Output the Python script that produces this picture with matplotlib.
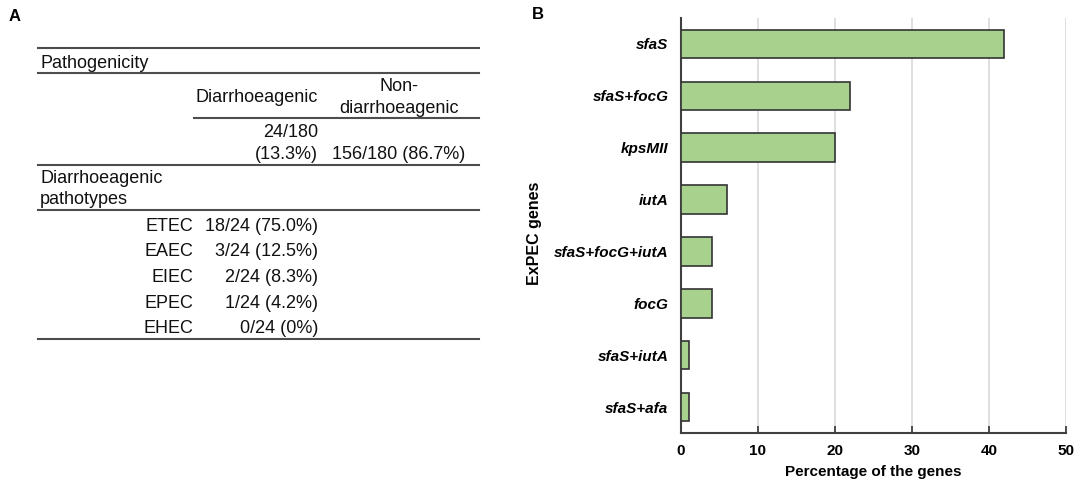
import matplotlib
matplotlib.use("Agg")
from matplotlib import pyplot as plt
from matplotlib.lines import Line2D
import numpy as np

plt.rcParams['font.family'] = ['Liberation Sans', 'DejaVu Sans']

# panel B data
genes = ["sfaS", "sfaS+focG", "kpsMII", "iutA", "sfaS+focG+iutA", "focG", "sfaS+iutA", "sfaS+afa"]
percent = [42, 22, 20, 6, 4, 4, 1, 1]
x_ticks = [0, 10, 20, 30, 40, 50]

# panel A data
pathotypes = ["ETEC", "EAEC", "EIEC", "EPEC", "EHEC"]
pathotype_counts = ["18/24 (75.0%)", "3/24 (12.5%)", "2/24 (8.3%)", "1/24 (4.2%)", "0/24 (0%)"]
diarr_count = ["24/180", "(13.3%)"]
nondiarr_count = "156/180 (86.7%)"

W, H = 1084, 495
fig = plt.figure(figsize=(W / 100, H / 100), dpi=100)


def fx(x):
    return x / W


def fy(y):
    return 1 - y / H


def txt(x, y, s, **kw):
    fig.text(fx(x), fy(y), s, fontsize=13, color='#111111', va='baseline', **kw)


def hline(y, x0, x1):
    fig.add_artist(Line2D([fx(x0), fx(x1)], [fy(y), fy(y)], color='#4d4d4d', lw=1.5))


# ---- panel A: table ----
fig.text(fx(9), fy(21), "A", fontsize=12, fontweight='bold', va='baseline')
hline(48, 38, 479)
hline(73, 38, 479)
hline(118, 194, 479)
hline(165, 38, 479)
hline(210, 38, 479)
hline(339, 38, 479)

txt(40, 68, "Pathogenicity")
txt(318, 102, "Diarrhoeagenic", ha='right')
txt(399, 91, "Non-", ha='center')
txt(399, 113, "diarrhoeagenic", ha='center')
txt(318, 137, diarr_count[0], ha='right')
txt(318, 159, diarr_count[1], ha='right')
txt(332, 159, nondiarr_count, ha='left')
txt(40, 183, "Diarrhoeagenic")
txt(40, 204, "pathotypes")
for i, (name, val) in enumerate(zip(pathotypes, pathotype_counts)):
    yb = 231 + i * 25.5
    txt(193, yb, name, ha='right')
    txt(318, yb, val, ha='right')

# ---- panel B: bar chart ----
fig.text(fx(532), fy(19), "B", fontsize=12, fontweight='bold', va='baseline')
ax = fig.add_axes([fx(681), fy(433), fx(1066) - fx(681), (433 - 18) / H])
y = np.arange(len(genes))
ax.barh(y, percent, height=0.55, color='#a9d18e', edgecolor='#333333', linewidth=1.2, zorder=3)
ax.set_ylim(len(genes) - 0.5, -0.5)
ax.set_xlim(0, 50)
ax.set_xticks(x_ticks)
ax.set_yticks(y)
ax.set_yticklabels(genes, fontsize=11, fontweight='bold', fontstyle='italic')
ax.set_axisbelow(True)
ax.grid(axis='x', color='#d9d9d9', lw=1.2)
ax.tick_params(axis='x', direction='in', length=5, width=1.3, color='#404040', labelsize=11, pad=8)
ax.tick_params(axis='y', length=0, pad=9)
for lab in ax.get_xticklabels():
    lab.set_fontweight('bold')
for s in ['top', 'right']:
    ax.spines[s].set_visible(False)
for s in ['left', 'bottom']:
    ax.spines[s].set_color('#404040')
    ax.spines[s].set_linewidth(1.5)
ax.set_xlabel("Percentage of the genes", fontsize=11, fontweight='bold', labelpad=5)
ax.set_ylabel("ExPEC genes", fontsize=11.5, fontweight='bold')
ax.yaxis.set_label_coords(-0.36, 0.48)

fig.savefig("out.png", dpi=100)
